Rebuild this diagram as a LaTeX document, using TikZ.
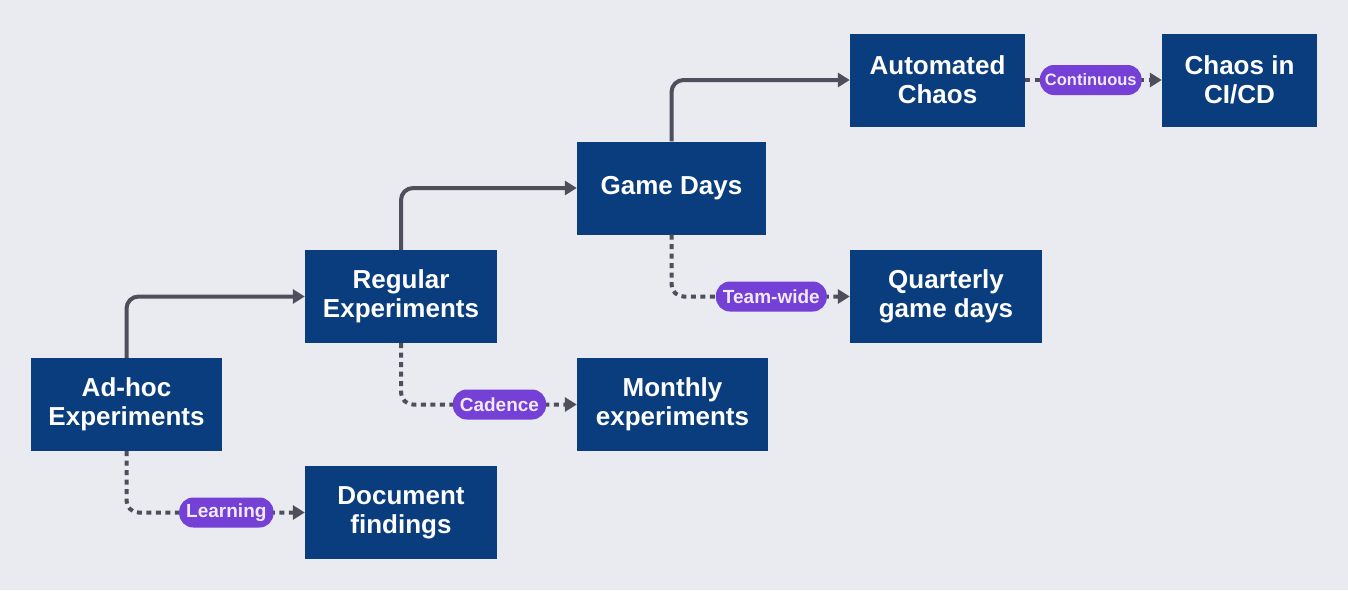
\documentclass[tikz,border=0pt]{standalone}
\usepackage{fontspec}
\setmainfont{Liberation Sans}
\usetikzlibrary{arrows.meta}
\definecolor{bg}{HTML}{E9EBF0}
\definecolor{navy}{HTML}{0A3D7E}
\definecolor{conn}{HTML}{4D505C}
\definecolor{pill}{HTML}{7440D6}
\definecolor{pilltext}{HTML}{F1E9FF}
\begin{document}
\begin{tikzpicture}[x=1pt,y=-1pt,
  box/.style={fill=navy, text=white, font=\bfseries\fontsize{26}{29}\selectfont,
    align=center, inner sep=0pt, minimum height=93pt},
  flow/.style={draw=conn, line width=4pt, rounded corners=12pt,
    -{Triangle[length=12pt,width=14pt]}},
  dotflow/.style={flow, dash pattern=on 5pt off 4.5pt},
  tag/.style={fill=pill, text=pilltext, font=\bfseries\fontsize{19}{22}\selectfont,
    rounded corners=14pt, minimum height=30pt, inner xsep=7pt, inner ysep=0pt, solid},
  smalltag/.style={tag, font=\bfseries\fontsize{16.5}{20}\selectfont, inner xsep=5pt}
]
\path[fill=bg] (0,0) rectangle (1348,590);
\useasboundingbox (0,0) rectangle (1348,590);

\node[box, minimum width=191pt] (adhoc)   at (126.5,404.5) {Ad-hoc\\Experiments};
\node[box, minimum width=192pt] (doc)     at (401,512.5)   {Document\\findings};
\node[box, minimum width=192pt] (regular) at (401,296.5)   {Regular\\Experiments};
\node[box, minimum width=191pt] (monthly) at (672.5,404.5) {Monthly\\experiments};
\node[box, minimum width=189pt] (game)    at (671.5,188)   {Game Days};
\node[box, minimum width=192pt] (quart)   at (946,296.5)   {Quarterly\\game days};
\node[box, minimum width=175pt] (auto)    at (937.5,80)    {Automated\\Chaos};
\node[box, minimum width=155pt] (cicd)    at (1239.5,80)   {Chaos in\\CI/CD};

\draw[flow] (adhoc.north) |- (regular.west);
\draw[flow] (regular.north) |- (game.west);
\draw[flow] (game.north) |- (auto.west);

\draw[dotflow] (adhoc.south) |- (doc.west) node[tag, pos=0.78] (l1) {Learning};
\draw[dotflow] (regular.south) |- (monthly.west) node[tag, pos=0.78] (l2) {Cadence};
\draw[dotflow] (game.south) |- (quart.west) node[tag, pos=0.78] (l3) {Team-wide};
\draw[dotflow] (auto.east) -- (cicd.west) node[smalltag, pos=0.48] (l4) {Continuous};
\end{tikzpicture}
\end{document}
